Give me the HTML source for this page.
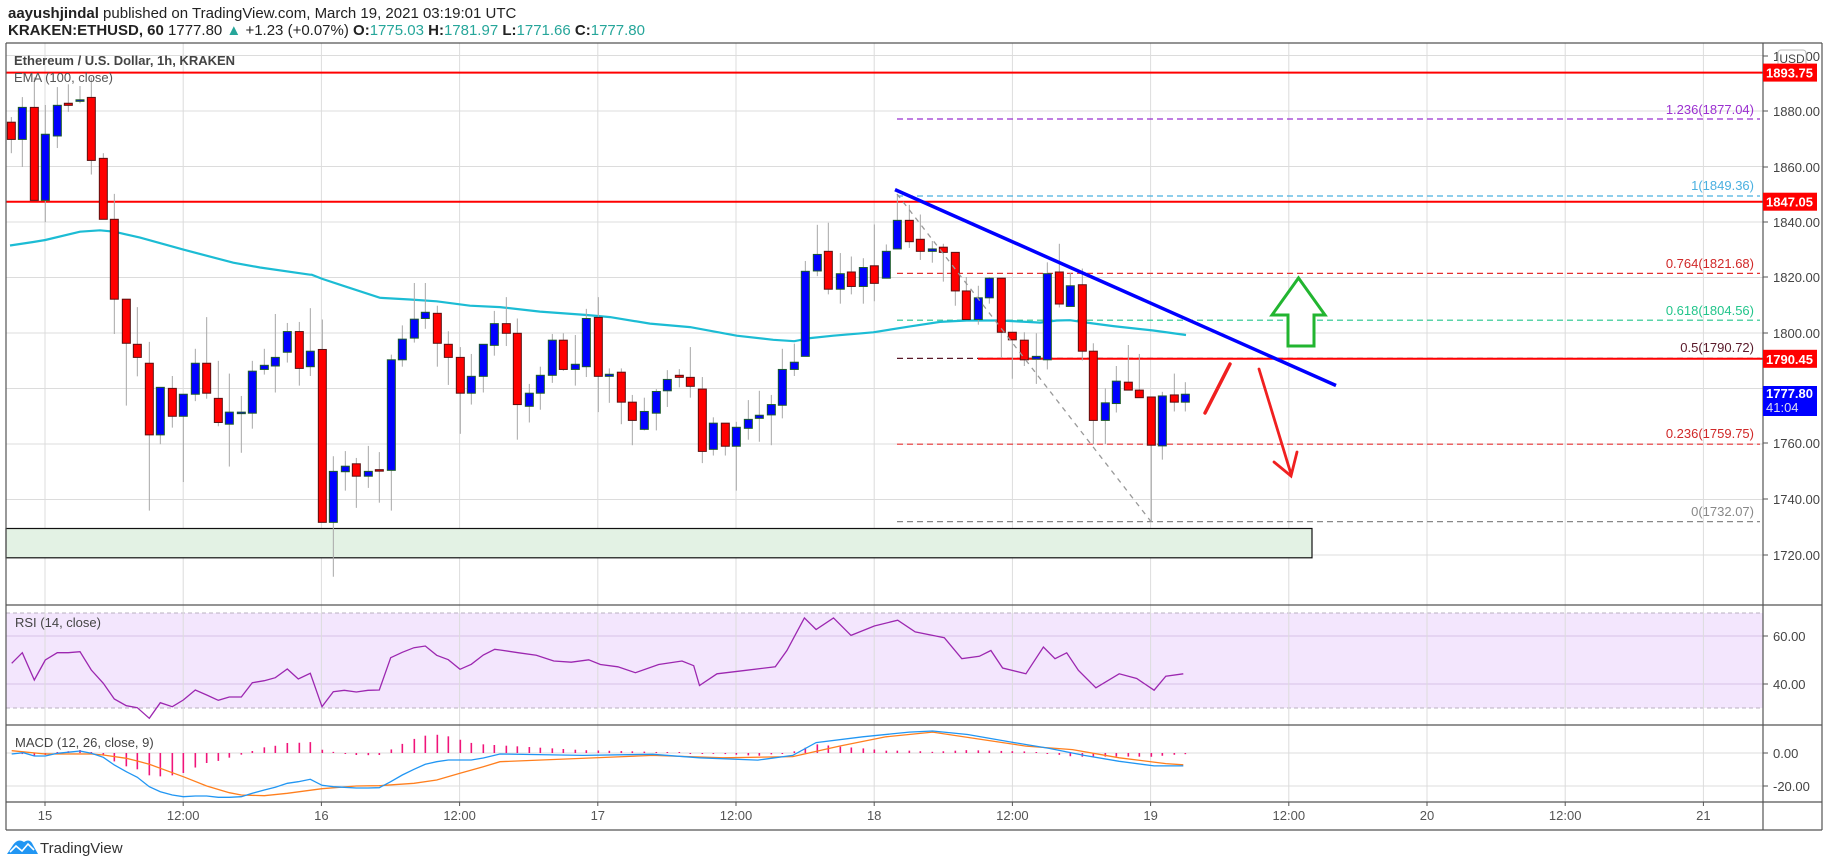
<!DOCTYPE html>
<html><head><meta charset="utf-8"><style>
html,body{margin:0;padding:0;background:#fff;}
svg{display:block;font-family:"Liberation Sans",sans-serif;}
</style></head><body>
<svg id="s" width="1828" height="867" xmlns="http://www.w3.org/2000/svg">
<rect width="1828" height="867" fill="#fff"/>
<text x="8" y="18" font-size="15" fill="#222"><tspan font-weight="bold">aayushjindal</tspan> published on TradingView.com, March 19, 2021 03:19:01 UTC</text>
<text x="8" y="35" font-size="15" fill="#222"><tspan font-weight="bold">KRAKEN:ETHUSD, 60</tspan> 1777.80 <tspan fill="#26a69a">▲</tspan> +1.23 (+0.07%) <tspan font-weight="bold">O:</tspan><tspan fill="#26a69a">1775.03</tspan> <tspan font-weight="bold">H:</tspan><tspan fill="#26a69a">1781.97</tspan> <tspan font-weight="bold">L:</tspan><tspan fill="#26a69a">1771.66</tspan> <tspan font-weight="bold">C:</tspan><tspan fill="#26a69a">1777.80</tspan></text>
<g id="g"></g>
</svg>
<script>
var NS="http://www.w3.org/2000/svg",G=document.getElementById('g');
function el(t,a,txt){var e=document.createElementNS(NS,t);for(var k in a)e.setAttribute(k,a[k]);if(txt!=null)e.textContent=txt;G.appendChild(e);return e;}
function line(x1,y1,x2,y2,c,w,d){var a={x1:x1,y1:y1,x2:x2,y2:y2,stroke:c,'stroke-width':w||1};if(d)a['stroke-dasharray']=d;return el('line',a);}
function txt(x,y,s,sz,c,anchor,bold){var a={x:x,y:y,'font-size':sz,fill:c};if(anchor)a['text-anchor']=anchor;if(bold)a['font-weight']='bold';return el('text',a,s);}
var L=6,R=1763,RB=1822;
// grid horizontal main
function py(p){return 111+(1880-p)*2.775;}
[1900,1880,1860,1840,1820,1800,1780,1760,1740,1720].forEach(function(p){var y=py(p);if(y>43&&y<605)line(L,y,R,y,'#dcdcdc',1);});
// RSI band
el('rect',{x:L,y:613,width:R-L,height:95,fill:'#f3e6fd'});
line(L,636,R,636,'#d7c2e6',1);line(L,684,R,684,'#d7c2e6',1);
line(L,613,R,613,'#b9b0c0',1,'4,3');line(L,708,R,708,'#b9b0c0',1,'4,3');
// MACD grid
line(L,753,R,753,'#dcdcdc',1);line(L,786,R,786,'#dcdcdc',1);
// vertical grid + time labels
var tl=['15','12:00','16','12:00','17','12:00','18','12:00','19','12:00','20','12:00','21'];
for(var i=0;i<13;i++){var x=45+i*138.2;line(x,43,x,802,'#dcdcdc',1);line(x,802,x,806,'#555',1);txt(x,820,tl[i],13,'#555','middle');}
// green box
el('rect',{x:L,y:528.5,width:1312-L,height:29.3,fill:'#e3f2e4',stroke:'#111','stroke-width':1.2});
// fib lines
var fx1=897,fx2=1760;
line(fx1,119,fx2,119,'#9b30d0',1.2,'6,4');
line(fx1,196,fx2,196,'#4ab0e0',1.2,'6,4');
line(fx1,273.4,fx2,273.4,'#e53030',1.2,'6,4');
line(fx1,320.2,fx2,320.2,'#22c58b',1.2,'6,4');
line(fx1,358.4,fx2,358.4,'#5a1a2a',1.2,'6,4');
line(fx1,444.2,fx2,444.2,'#e53030',1.2,'6,4');
line(fx1,521.6,fx2,521.6,'#888',1.2,'6,4');
txt(1754,114,'1.236(1877.04)',13,'#9b30d0','end');
txt(1754,190,'1(1849.36)',13,'#4ab0e0','end');
txt(1754,268,'0.764(1821.68)',13,'#d02828','end');
txt(1754,315,'0.618(1804.56)',13,'#22c58b','end');
txt(1754,352,'0.5(1790.72)',13,'#5a1a2a','end');
txt(1754,438,'0.236(1759.75)',13,'#d02828','end');
txt(1754,516,'0(1732.07)',13,'#888','end');
// red horizontal lines
line(L,72.6,R,72.6,'#ff0000',2);
line(L,201.7,R,201.7,'#ff0000',2);
line(978,358.8,R,358.8,'#ff0000',2);
// EMA
function pts(arr,off,sx,sy,oy){return arr.map(function(p){return (off+p[0]/sx).toFixed(1)+','+(oy+p[1]/sy).toFixed(1);}).join(' ');}
var emaStr=[pts([[30,588],[100,578],[136,572],[240,548],[300,544],[343,548],[420,565],[550,600],[700,638],[780,652],[930,673]],0,3,2.904,43),
pts([[35,673],[67,685],[130,705],[240,740],[330,745],[410,750],[510,763],[600,767],[720,780],[860,790],[930,796]],300,3,2.904,43),
pts([[150,815],[270,825],[410,850],[520,862],[583,866],[630,857],[700,850],[820,840],[930,823]],600,3,2.904,43),
pts([[120,810],[200,806],[300,806],[380,810],[420,812],[470,806],[510,805],[560,812],[640,822],[760,835],[858,848]],900,3,2.904,43)].join(' ');
el('polyline',{points:emaStr,fill:'none',stroke:'#1cbcd4','stroke-width':2.2});
// candles
var Z=[[0,[[34,230,280,215,320,'r'],[67,187,280,157,360,'b'],[103,187,457,100,457,'r'],[136,265,457,180,520,'b'],[172,181,270,128,305,'b'],[205,175,181,120,200,'r'],[240,165,167,125,175,'b'],[274,158,341,100,382,'r'],[310,335,512,320,512,'r'],[343,512,744,438,845,'r'],[379,744,872,744,1053,'r'],[412,875,913,767,968,'r'],[448,930,1138,868,1358,'r'],[481,1000,1138,1000,1165,'b'],[517,1003,1084,967,1117,'r'],[550,1020,1084,1020,1275,'b'],[586,930,1020,888,1040,'b'],[620,930,1017,796,1033,'r'],[655,1032,1102,923,1113,'r'],[688,1072,1107,960,1230,'b'],[724,1072,1075,1025,1190,'b'],[757,953,1075,923,1120,'b'],[793,936,948,888,963,'b'],[826,913,938,787,1015,'b'],[862,838,898,813,928,'b'],[898,838,945,810,995,'r']]],
[300,[[31,895,940,770,967,'b'],[67,890,1392,803,1392,'r'],[100,1244,1392,1200,1550,'b'],[136,1229,1245,1185,1300,'b'],[169,1222,1258,1205,1350,'r'],[205,1244,1258,1170,1292,'b'],[238,1239,1242,1188,1335,'r'],[274,920,1241,905,1358,'b'],[307,860,920,820,940,'b'],[343,802,857,697,870,'b'],[376,782,800,697,830,'b'],[412,785,872,763,940,'r'],[445,875,913,837,993,'r'],[481,913,1017,883,1135,'r'],[514,968,1017,903,1050,'b'],[550,875,968,875,1015,'b'],[583,815,878,778,908,'b'],[619,815,843,738,880,'r'],[652,843,1050,800,1152,'r'],[688,1017,1055,990,1102,'b'],[721,965,1017,940,1065,'b'],[757,863,965,845,987,'b'],[790,863,948,843,952,'r'],[826,933,948,848,995,'b'],[859,800,940,772,970,'b'],[895,797,968,738,1072,'r'],[928,962,968,945,1045,'b']]],
[600,[[64,956,1043,945,1107,'r'],[97,1043,1096,1022,1168,'r'],[133,1070,1122,1030,1125,'b'],[169,1012,1075,1005,1125,'b'],[202,977,1010,950,1057,'b'],[238,965,971,947,1000,'r'],[271,971,997,883,1030,'r'],[307,1005,1186,970,1220,'r'],[340,1104,1180,1087,1198,'b'],[376,1104,1171,1104,1198,'r'],[409,1116,1171,1100,1300,'b'],[445,1093,1119,1037,1152,'b'],[478,1081,1090,1010,1158,'b'],[514,1050,1080,1022,1168,'b'],[547,948,1052,888,1090,'b'],[583,927,948,873,967,'b'],[616,663,910,633,910,'b'],[652,614,662,528,677,'b'],[685,605,715,522,730,'r'],[721,670,715,610,757,'b'],[754,665,707,620,730,'r'],[790,652,707,625,757,'b'],[823,647,698,527,750,'r'],[859,605,683,585,683,'b'],[892,515,598,440,598,'b'],[928,515,577,470,595,'r']]],
[900,[[61,570,605,498,630,'r'],[97,598,605,575,638,'b'],[130,593,608,583,693,'r'],[166,608,720,608,763,'r'],[199,720,803,680,803,'r'],[235,740,803,705,818,'b'],[268,683,740,680,757,'b'],[304,683,840,683,915,'r'],[337,840,862,840,975,'r'],[373,863,920,840,938,'r'],[409,910,918,843,990,'b'],[442,670,920,637,948,'b'],[478,665,758,583,768,'r'],[511,705,765,668,765,'b'],[547,702,895,655,922,'r'],[580,895,1096,872,1165,'r'],[616,1045,1096,1003,1165,'b'],[649,982,1047,938,1073,'b'],[685,985,1008,877,1008,'r'],[718,1008,1030,903,1030,'r'],[754,1028,1168,1028,1390,'r'],[787,1025,1170,1013,1210,'b'],[823,1022,1043,960,1070,'r'],[856,1020,1043,985,1070,'b']]]];
var CX=[];
Z.forEach(function(z){var off=z[0];z[1].forEach(function(c){var x=off+c[0]/3,yt=43+c[1]/2.904,yb=43+c[2]/2.904,wt=43+c[3]/2.904,wb=43+c[4]/2.904;
CX.push(x);
line(x,wt,x,wb,'#a8a8a8',1);
var h=Math.max(yb-yt,1.5);
el('rect',{x:x-4,y:yt,width:8,height:h,fill:c[5]=='r'?'#ff0000':'#0000ff',stroke:c[5]=='r'?'#5a1010':'#1d5a2a','stroke-width':1});});});
// dashed diagonal
line(897,194,1151,521.6,'#999',1.3,'5,5');
// trend line
line(895,189.6,1336,385.5,'#0000ff',3.5);
// red arrows
el('path',{d:'M1205,413 L1230,364',stroke:'#f02020','stroke-width':3.5,fill:'none','stroke-linecap':'round'});
el('path',{d:'M1259,369 L1291,474 M1274,462 L1291,476 L1297,452',stroke:'#f02020','stroke-width':2.8,fill:'none','stroke-linecap':'round'});
// green arrow
el('path',{d:'M1298.5,278 L1325,315 L1314,315 L1314,346 L1288,346 L1288,315 L1272,315 Z',fill:'#fff',stroke:'#22b530','stroke-width':3});
// RSI line
var rsiA=[[35,490],[67,458],[103,540],[136,480],[172,458],[205,458],[240,455],[274,510],[310,550],[343,597],[379,617],[412,623],[448,655],[481,608],[517,620],[550,600],[586,570],[620,585],[655,601],[688,591],[724,591],[757,548],[793,542],[826,533],[862,507],[895,537],[931,520],[966,620],[1000,575],[1033,571],[1069,576],[1104,571],[1138,570],[1172,473],[1207,457],[1242,443],[1276,438],[1310,466],[1345,479],[1380,508],[1414,493],[1450,465],[1484,448],[1500,450]].map(function(p){return [p[0]/3,500+p[1]/3];});
var rsiB=[[445,560],[460,562],[475,567],[490,568],[505,566],[515,570],[530,572],[545,577],[565,570],[585,567],[595,571],[600,588],[615,578],[640,575],[665,572],[675,558],[690,530],[700,540],[715,530],[730,545],[750,537],[770,532],[785,542],[800,545],[810,547],[825,565],[840,563],[850,558],[860,573],[880,578],[895,555],[905,565],[915,560],[925,575],[940,590],[960,578],[975,582],[990,592],[1000,580],[1015,578]].map(function(p){return [p[0]*1.1658,p[1]*1.1658];});
el('polyline',{points:rsiA.concat(rsiB).map(function(p){return p[0].toFixed(1)+','+p[1].toFixed(1);}).join(' '),fill:'none',stroke:'#9c27b0','stroke-width':1.3});
// MACD
var blue=[[35,762],[70,758],[103,768],[136,768],[172,760],[240,753],[274,760],[310,772],[343,795],[379,815],[412,832],[448,860],[481,875],[517,885],[550,890],[586,888],[620,888],[655,892],[688,892],[724,890],[757,880],[793,870],[826,862],[862,850],[895,845],[931,838],[966,856],[1000,860],[1033,862],[1069,864],[1104,864],[1138,863],[1172,845],[1207,825],[1242,808],[1276,793],[1310,785],[1345,780],[1380,780],[1414,780],[1450,774],[1500,762]].map(function(p){return [p[0]/3,500+p[1]/3];})
.concat([[500,648],[560,647],[600,650],[650,652],[680,648],[700,637],[740,632],[780,628],[800,627],[830,630],[870,637],[900,642],[930,648],[960,653],[990,657],[1015,657]].map(function(p){return [p[0]*1.1658,p[1]*1.1658];}));
var orng=[[35,752],[136,762],[274,762],[310,765],[379,775],[412,783],[448,793],[517,818],[550,830],[620,858],[688,878],[724,885],[793,887],[862,880],[966,866],[1069,858],[1138,857],[1242,850],[1310,840],[1380,820],[1450,800],[1500,785]].map(function(p){return [p[0]/3,500+p[1]/3];})
.concat([[560,648],[620,650],[680,649],[720,640],[760,632],[800,628],[840,634],[880,640],[920,643],[960,650],[1000,655],[1015,656]].map(function(p){return [p[0]*1.1658,p[1]*1.1658];}));
function interp(a,x){for(var i=1;i<a.length;i++){if(a[i][0]>=x){var t=(x-a[i-1][0])/(a[i][0]-a[i-1][0]);return a[i-1][1]+t*(a[i][1]-a[i-1][1]);}}return a[a.length-1][1];}
CX.forEach(function(x){if(x<12)return;var d=interp(orng,x)-interp(blue,x);if(Math.abs(d)<0.8)d=d<0?-1:1;line(x,753,x,753-d,'#f0157a',1.6);});
el('polyline',{points:orng.map(function(p){return p[0].toFixed(1)+','+p[1].toFixed(1);}).join(' '),fill:'none',stroke:'#ff7f1e','stroke-width':1.3});
el('polyline',{points:blue.map(function(p){return p[0].toFixed(1)+','+p[1].toFixed(1);}).join(' '),fill:'none',stroke:'#2196f3','stroke-width':1.3});
// pane labels
txt(14,65,'Ethereum / U.S. Dollar, 1h, KRAKEN',13,'#444',null,true);
txt(14,82,'EMA (100, close)',13,'#555');
txt(15,627,'RSI (14, close)',13,'#444');
txt(15,747,'MACD (12, 26, close, 9)',13,'#444');
// frames
el('rect',{x:R,y:43,width:RB-R,height:787,fill:'#fff'});
line(L,43,RB,43,'#555',1.2);
line(L,43,L,830,'#555',1.2);
line(RB,43,RB,830,'#555',1.2);
line(L,605,RB,605,'#555',1.2);
line(L,725,RB,725,'#555',1.2);
line(L,802,RB,802,'#555',1.2);
line(L,830,RB,830,'#555',1.2);
line(R,43,R,830,'#555',1.2);
// price axis labels
[[1900,56],[1880,111],[1860,167],[1840,222],[1820,277],[1800,333],[1760,443],[1740,499],[1720,555]].forEach(function(p){line(R,p[1],R+5,p[1],'#555',1);txt(1773,p[1]+5,p[0].toFixed(2),13,'#444');});
[[60,636],[40,684],[0,753],[-20,786]].forEach(function(p){line(R,p[1],R+5,p[1],'#555',1);txt(1773,p[1]+5,p[0].toFixed(2),13,'#444');});
el('rect',{x:1778,y:50,width:28,height:17,rx:3,fill:'#fff',stroke:'#bbb'});
txt(1792,63,'USD',12,'#444','middle');
[[1893.75,72.6],[1847.05,201.7],[1790.45,358.8]].forEach(function(p){el('rect',{x:R,y:p[1]-9,width:54,height:18,fill:'#ff0000'});txt(1766,p[1]+5,p[0].toFixed(2),13,'#fff',null,true);});
el('rect',{x:R,y:386,width:54,height:30,fill:'#0000ff'});
txt(1766,398,'1777.80',13,'#fff',null,true);
txt(1766,412,'41:04',13,'#dde',null,false);
// logo
el('path',{d:'M7,854 L13,845 Q18,838 24,842 Q30,838 33,845 L38,854 Z',fill:'#2196f3'});
el('polyline',{points:'10,852 16,846 22,851 28,844 34,850',fill:'none',stroke:'#fff','stroke-width':1.6});
txt(40,853,'TradingView',15,'#333');
</script>
</body></html>
